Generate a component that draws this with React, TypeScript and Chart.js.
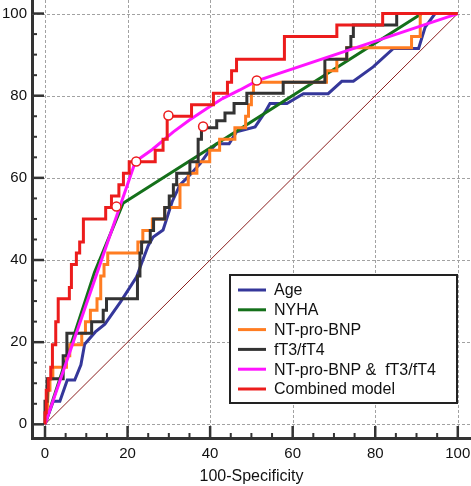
import React, { useEffect, useRef } from 'react';
import { Chart, registerables } from 'chart.js';

Chart.register(...registerables);

type Pt = [number, number];

// ---- data (x = 100-Specificity, y = Sensitivity) ----
const seriesLabels = ['Age', 'NYHA', 'NT-pro-BNP', 'fT3/fT4', 'NT-pro-BNP &  fT3/fT4', 'Combined model'];
const seriesColors = ['#35379a', '#14701a', '#ff7d22', '#333333', '#ff14ff', '#ec1c1c'];

const agePts: Pt[] = [
  [0, 0], [2, 5.6], [3.6, 5.6], [5.4, 10.8], [7.2, 10.8], [8.7, 14.5], [9.6, 19.5], [12.2, 22.5],
  [14.5, 24.4], [18.3, 29.8], [22.2, 35.9], [23.4, 39.2], [25, 43.5], [26.2, 45.6], [28.6, 47.3],
  [30.8, 54.2], [32.7, 58.3], [35.1, 60.7], [37.6, 63.5], [39.6, 66.3], [41.6, 68.3], [44.6, 68.3],
  [46.4, 71.2], [50.9, 72.4], [53.3, 76], [54.5, 78.1], [58.6, 78.1], [62.6, 80.5], [68.6, 80.5],
  [71.9, 83.5], [74.7, 83.5], [79.5, 87], [84.4, 91.5], [90.5, 91.5], [92.1, 96.7], [94.5, 100], [100, 100],
];

const nyhaPts: Pt[] = [[0, 0], [12, 37], [18.9, 53.8], [91.3, 100], [100, 100]];

const bnpPts: Pt[] = [
  [0, 0], [0.5, 2.8], [0.8, 8.3], [1.2, 8.3], [1.2, 11.1], [1.9, 11.1], [1.9, 13.9], [5.2, 13.9],
  [5.2, 16.7], [6, 16.7], [6, 19.4], [8.9, 19.4], [8.9, 22.2], [9.8, 22.2], [9.8, 25], [11, 25],
  [11, 27.8], [12.6, 27.8], [12.6, 30.6], [13.5, 30.6], [13.5, 36.1], [14.3, 36.1], [14.3, 38.9],
  [15.2, 38.9], [15.2, 41.7], [22.5, 41.7], [22.5, 44.4], [23.7, 44.4], [23.7, 47.2], [26, 47.2],
  [26, 50], [29, 50], [29, 52.8], [32.7, 52.8], [32.7, 58.3], [34.7, 58.3], [34.7, 61.1], [36.8, 61.1],
  [36.8, 63.9], [39.9, 63.9], [39.9, 66.7], [42.3, 66.7], [42.3, 69.4], [46, 69.4], [46, 72.2],
  [48.6, 72.2], [48.6, 75], [49.3, 75], [49.3, 77.8], [50, 77.8], [50, 80.6], [50.5, 80.6], [50.5, 83.3],
  [68.2, 83.3], [68.2, 86.1], [70.7, 86.1], [70.7, 88.9], [73.1, 88.9], [73.1, 91.7], [88.8, 91.7],
  [88.8, 94.4], [90.9, 94.4], [90.9, 100], [100, 100],
];

const thyroidPts: Pt[] = [
  [0, 0], [0, 5.6], [0.5, 5.6], [0.5, 11.1], [4.4, 11.1], [4.4, 16.7], [5.3, 16.7], [5.3, 22.2],
  [11.3, 22.2], [11.3, 25], [14.1, 25], [14.1, 27.8], [14.9, 27.8], [14.9, 30.6], [22.4, 30.6],
  [22.4, 36.1], [23, 36.1], [23, 41.7], [23.4, 41.7], [23.4, 44.4], [25.5, 44.4], [25.5, 47.2],
  [26.3, 47.2], [26.3, 50], [29, 50], [29, 52.8], [30.1, 52.8], [30.1, 55.6], [31.1, 55.6], [31.1, 58.3],
  [31.9, 58.3], [31.9, 61.1], [35.1, 61.1], [35.1, 63.9], [37.1, 63.9], [37.1, 69.4], [37.9, 69.4],
  [37.9, 72.2], [41.6, 72.2], [41.6, 73.9], [43.6, 73.9], [43.6, 75.8], [45.8, 75.8], [45.8, 78.1],
  [48.9, 78.1], [48.9, 80.6], [57.7, 80.6], [57.7, 83.3], [67.8, 83.3], [67.8, 88.9], [73.1, 88.9],
  [73.1, 91.7], [74.1, 91.7], [74.1, 94.4], [74.7, 94.4], [74.7, 97.2], [85.2, 97.2], [85.2, 100], [100, 100],
];

const bnpThyroidPts: Pt[] = [
  [0, 0], [21.9, 64], [26, 66.9], [31.1, 71.2], [35, 74.1], [39.2, 76.9], [43, 79.3], [47.2, 81.4],
  [51.3, 83.6], [100, 100],
];

const combinedPts: Pt[] = [
  [0, 0], [0, 2.8], [0.3, 2.8], [0.3, 8.3], [0.8, 8.3], [0.8, 11.1], [1.4, 11.1], [1.4, 13.9],
  [1.8, 13.9], [1.8, 19.4], [2.6, 19.4], [2.6, 25], [3.2, 25], [3.2, 30.6], [5.9, 30.6], [5.9, 33.3],
  [6.4, 33.3], [6.4, 38.9], [7.6, 38.9], [7.6, 41.7], [8.4, 41.7], [8.4, 44.4], [9.3, 44.4], [9.3, 50],
  [14.7, 50], [14.7, 52.8], [16.1, 52.8], [16.1, 55.6], [17.9, 55.6], [17.9, 58.3], [19, 58.3],
  [19, 61.1], [20.4, 61.1], [20.4, 63.9], [26.7, 63.9], [26.7, 66.7], [28.6, 66.7], [28.6, 69.4],
  [29.6, 69.4], [29.6, 75], [35.5, 75], [35.5, 77.8], [40.8, 77.8], [40.8, 80.6], [44.2, 80.6],
  [44.2, 83.3], [45.2, 83.3], [45.2, 86.1], [46.4, 86.1], [46.4, 88.9], [58, 88.9], [58, 94.4],
  [70.7, 94.4], [70.7, 97.2], [81.8, 97.2], [81.8, 100], [100, 100],
];

const cutoffPts: Pt[] = [[17.3, 53], [22.1, 64], [29.9, 75.2], [38.3, 72.5], [51.3, 83.7]];
const referencePts: Pt[] = [[0, 0], [100, 100]];

const majorTicks = [0, 20, 40, 60, 80, 100];
const minorTickStep = 5;

const FONT = '"Liberation Sans", Arial, Helvetica, sans-serif';

const toXY = (pts: Pt[]) => pts.map(([x, y]) => ({ x, y }));

// dashed grid lines at each major tick, drawn under the data
const dashedGridPlugin = {
  id: 'dashedGrid',
  beforeDatasetsDraw(chart: any) {
    const { ctx, chartArea, scales } = chart;
    ctx.save();
    ctx.strokeStyle = '#a2a2a2';
    ctx.lineWidth = 1;
    ctx.setLineDash([3, 2]);
    majorTicks.forEach((v) => {
      const px = Math.round(scales.x.getPixelForValue(v)) + 0.5;
      ctx.beginPath();
      ctx.moveTo(px, chartArea.top);
      ctx.lineTo(px, chartArea.bottom);
      ctx.stroke();
      const py = Math.round(scales.y.getPixelForValue(v)) + 0.5;
      ctx.beginPath();
      ctx.moveTo(chartArea.left, py);
      ctx.lineTo(chartArea.right, py);
      ctx.stroke();
    });
    ctx.restore();
  },
};

const tickMarksPlugin = {
  id: 'tickMarks',
  afterDatasetsDraw(chart: any) {
    const { ctx, chartArea, scales } = chart;
    ctx.save();
    ctx.strokeStyle = '#333333';
    for (let v = majorTicks[0]; v <= majorTicks[majorTicks.length - 1]; v += minorTickStep) {
      const major = majorTicks.includes(v);
      const len = major ? 12 : 5;
      ctx.lineWidth = major ? 2.5 : 2;
      const px = scales.x.getPixelForValue(v);
      ctx.beginPath();
      ctx.moveTo(px, chartArea.bottom);
      ctx.lineTo(px, chartArea.bottom - len);
      ctx.stroke();
      const py = scales.y.getPixelForValue(v);
      ctx.beginPath();
      ctx.moveTo(chartArea.left, py);
      ctx.lineTo(chartArea.left + len, py);
      ctx.stroke();
    }
    ctx.restore();
  },
};

const boxLegendPlugin = {
  id: 'boxLegend',
  afterDraw(chart: any) {
    const { ctx, chartArea } = chart;
    const items = chart.data.datasets.filter((d: any) => !String(d.label).startsWith('_'));
    const w = 227;
    const h = 128;
    const rowH = 19.8;
    const left = chartArea.right - 14 - w;
    const top = chartArea.bottom - 35 - h;
    ctx.save();
    ctx.fillStyle = '#ffffff';
    ctx.fillRect(left, top, w, h);
    ctx.lineWidth = 2;
    ctx.strokeStyle = '#222222';
    ctx.strokeRect(left, top, w, h);
    ctx.font = `16px ${FONT}`;
    ctx.textBaseline = 'middle';
    items.forEach((d: any, i: number) => {
      const y = top + 15 + i * rowH;
      ctx.strokeStyle = d.borderColor;
      ctx.lineWidth = 3;
      ctx.beginPath();
      ctx.moveTo(left + 8, y);
      ctx.lineTo(left + 36, y);
      ctx.stroke();
      ctx.fillStyle = '#111111';
      ctx.fillText(d.label, left + 44, y + 1);
    });
    ctx.restore();
  },
};

const zeroPad = (s: any) => {
  s.paddingLeft = 0;
  s.paddingRight = 0;
  s.paddingTop = 0;
  s.paddingBottom = 0;
};

export default function App() {
  const canvasRef = useRef<HTMLCanvasElement | null>(null);

  useEffect(() => {
    if (!canvasRef.current) return;
    Chart.defaults.font.family = FONT;

    const seriesPts = [agePts, nyhaPts, bnpPts, thyroidPts, bnpThyroidPts, combinedPts];
    const drawOrder = [6, 5, 4, 3, 2, 1];

    const datasets: any[] = seriesPts.map((pts, i) => ({
      label: seriesLabels[i],
      data: toXY(pts),
      borderColor: seriesColors[i],
      backgroundColor: seriesColors[i],
      borderWidth: 3,
      pointRadius: 0,
      showLine: true,
      fill: false,
      tension: 0,
      order: drawOrder[i],
    }));

    datasets.push({
      label: '_reference',
      data: toXY(referencePts),
      borderColor: '#8b1e1e',
      backgroundColor: '#8b1e1e',
      borderWidth: 1,
      pointRadius: 0,
      showLine: true,
      fill: false,
      order: 10,
    });

    datasets.push({
      label: '_cutoffs',
      data: toXY(cutoffPts),
      showLine: false,
      pointRadius: 4.5,
      pointBorderWidth: 1.5,
      pointBorderColor: '#ec1c1c',
      pointBackgroundColor: '#ffffff',
      order: 0,
    });

    const chart = new Chart(canvasRef.current, {
      type: 'scatter',
      data: { datasets },
      options: {
        animation: false,
        responsive: true,
        maintainAspectRatio: false,
        layout: { padding: 0, autoPadding: false },
        plugins: { legend: { display: false }, tooltip: { enabled: false } },
        scales: {
          x: {
            type: 'linear',
            min: -3.15,
            max: 103.2,
            afterFit: (s: any) => { s.height = 48; zeroPad(s); },
            afterBuildTicks: (s: any) => { s.ticks = majorTicks.map((v) => ({ value: v })); },
            ticks: {
              padding: 7,
              color: '#111111',
              font: { size: 15 },
              maxRotation: 0,
              autoSkip: false,
            },
            grid: { display: false, drawTicks: false },
            border: { display: true, color: '#333333', width: 3 },
            title: { display: true, text: '100-Specificity', color: '#111111', font: { size: 16 }, padding: 0 },
          },
          y: {
            type: 'linear',
            min: -3.33,
            max: 103.3,
            afterFit: (s: any) => { s.width = 32; zeroPad(s); },
            afterBuildTicks: (s: any) => { s.ticks = majorTicks.map((v) => ({ value: v })); },
            ticks: {
              padding: 5,
              color: '#111111',
              font: { size: 15 },
              autoSkip: false,
            },
            grid: { display: false, drawTicks: false },
            border: { display: true, color: '#333333', width: 3 },
          },
        },
      } as any,
      plugins: [dashedGridPlugin, tickMarksPlugin, boxLegendPlugin],
    });

    return () => chart.destroy();
  }, []);

  return (
    <div style={{ position: 'absolute', left: 0, top: 0, width: 471, height: 486 }}>
      <canvas ref={canvasRef} />
    </div>
  );
}
